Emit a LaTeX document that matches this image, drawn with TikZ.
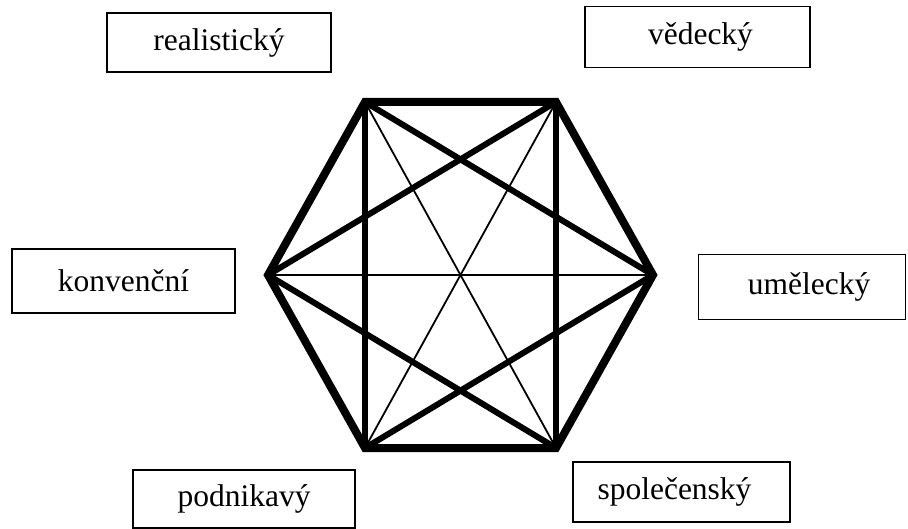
\documentclass[tikz,border=0pt]{standalone}
\usepackage{fontspec}
\setmainfont{Liberation Serif}
\begin{document}
\begin{tikzpicture}[x=1pt,y=-1pt,
  lbox/.style={draw=black, line width=1.8pt, inner sep=0pt, font=\fontsize{31.5}{36}\selectfont},
  hexedge/.style={line width=8pt, line join=miter},
  thickline/.style={line width=6pt},
  thinline/.style={line width=1.8pt}]
\useasboundingbox (0,0) rectangle (908,529);
% hexagon vertices
\coordinate (TL) at (365,102);
\coordinate (TR) at (556,102);
\coordinate (R) at (653,275);
\coordinate (BR) at (556,448);
\coordinate (BL) at (365,448);
\coordinate (L) at (268,275);
% thin lines
\draw[thinline] (TL) -- (BR);
\draw[thinline] (TR) -- (BL);
\draw[thinline] (L) -- (R);
% thick lines
\draw[thickline] (TL) -- (BL);
\draw[thickline] (TR) -- (BR);
\draw[thickline] (TL) -- (R);
\draw[thickline] (R) -- (BL);
\draw[thickline] (TR) -- (L);
\draw[thickline] (L) -- (BR);
% hexagon
\draw[hexedge] (TL) -- (TR) -- (R) -- (BR) -- (BL) -- (L) -- cycle;
% labels
\node[lbox, minimum width=224pt, minimum height=59pt] (real) at (219,42.5) {realistický};
\node[lbox, minimum width=225pt, minimum height=61pt] (ved) at (697.5,37) {\hspace*{6pt}vědecký};
\node[lbox, minimum width=223pt, minimum height=64pt] (konv) at (123.5,281) {konvenční};
\node[lbox, minimum width=207pt, minimum height=65pt] (umel) at (802,287) {\hspace*{14pt}umělecký};
\node[lbox, minimum width=222pt, minimum height=58pt] (podn) at (244,499) {podnikavý};
\node[lbox, minimum width=217pt, minimum height=60pt] (spol) at (681.5,492) {společenský\hspace*{14pt}};
\end{tikzpicture}
\end{document}
